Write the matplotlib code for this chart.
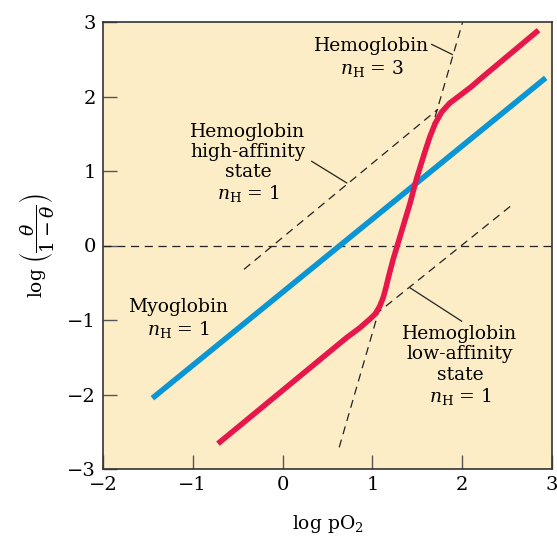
import matplotlib
matplotlib.use("Agg")
import matplotlib.pyplot as plt
import numpy as np

plt.rcParams['font.family'] = ['DejaVu Serif']
plt.rcParams['mathtext.fontset'] = 'dejavuserif'

# Data (log pO2, log(theta/(1-theta)))
myo_x = [-1.45, 2.93]
myo_y = [-2.05, 2.25]

hb_x = [-0.72, 0.71, 0.86, 0.97, 1.03, 1.08, 1.12, 1.15, 1.18, 1.23, 1.31, 1.42, 1.49,
        1.58, 1.64, 1.70, 1.77, 1.86, 1.97, 2.10, 2.235, 2.85]
hb_y = [-2.66, -1.24, -1.105, -0.99, -0.92, -0.82, -0.70, -0.57, -0.42, -0.19, 0.13, 0.57, 0.89,
        1.24, 1.46, 1.64, 1.79, 1.91, 2.01, 2.13, 2.27, 2.89]

nh3_x = [0.63, 2.005]
nh3_y = [-2.71, 3.0]
high_x = [-0.43, 1.73]
high_y = [-0.32, 1.83]
low_x = [1.03, 2.54]
low_y = [-0.93, 0.53]
zero_x = [-2, 3]
zero_y = [0, 0]

xticks = [-2, -1, 0, 1, 2, 3]
yticks = [-3, -2, -1, 0, 1, 2, 3]

fig = plt.figure(figsize=(5.57, 5.38), dpi=100)
ax = fig.add_axes([103/557, 1 - 469/538, (552-103)/557, (469-22)/538])
ax.set_facecolor('#FCEDC7')
ax.set_xlim(-2, 3)
ax.set_ylim(-3, 3)

dash = dict(color='#222222', lw=0.9, dashes=(6.5, 4.5))
ax.plot(zero_x, zero_y, **dash)
ax.plot(nh3_x, nh3_y, **dash)
ax.plot(high_x, high_y, **dash)
ax.plot(low_x, low_y, **dash)

ax.plot(myo_x, myo_y, color='#0A95D5', lw=4, solid_capstyle='butt')
ax.plot(hb_x, hb_y, color='#E8174B', lw=4, solid_capstyle='butt', solid_joinstyle='round')

fs = 13.5
ax.text(0.996, 2.52, 'Hemoglobin\n$n_{\\mathrm{H}}$ = 3', ha='center', va='center', fontsize=fs, linespacing=1.2)
ax.text(-0.385, 1.10, 'Hemoglobin\nhigh-affinity\nstate\n$n_{\\mathrm{H}}$ = 1', ha='center', va='center', fontsize=fs, linespacing=1.15)
ax.text(-1.165, -0.99, 'Myoglobin\n$n_{\\mathrm{H}}$ = 1', ha='center', va='center', fontsize=fs, linespacing=1.2)
ax.text(1.976, -1.62, 'Hemoglobin\nlow-affinity\nstate\n$n_{\\mathrm{H}}$ = 1', ha='center', va='center', fontsize=fs, linespacing=1.15)

lead = dict(color='#222222', lw=0.9)
ax.plot([1.66, 1.89], [2.70, 2.564], **lead)
ax.plot([0.324, 0.714], [1.13, 0.84], **lead)
ax.plot([1.419, 1.994], [-0.568, -1.016], **lead)

ax.set_xticks(xticks)
ax.set_yticks(yticks)
ax.set_xticklabels([str(t).replace('-', '\u2212') for t in xticks], fontsize=14)
ax.set_yticklabels([str(t).replace('-', '\u2212') for t in yticks], fontsize=14)
ax.tick_params(direction='in', length=10, width=1, color='#555555', top=False, right=False, pad=5)
for s in ax.spines.values():
    s.set_color('#333333')
    s.set_linewidth(1.2)

ax.set_xlabel('log pO$_2$', fontsize=fs, labelpad=14)
ax.set_ylabel(r'log $\left(\dfrac{\theta}{1-\theta}\right)$', fontsize=fs, labelpad=8)

fig.savefig('out.png', dpi=100)
